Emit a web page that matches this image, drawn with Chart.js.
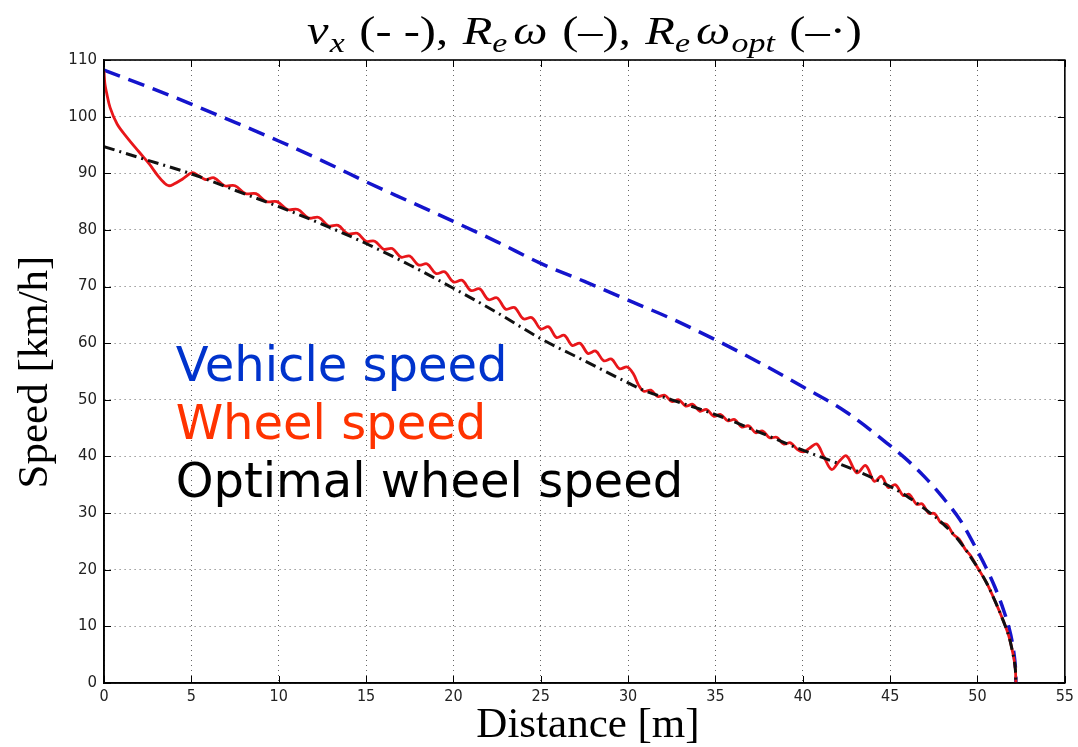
<!DOCTYPE html>
<html>
<head>
<meta charset="utf-8">
<script src="https://cdn.jsdelivr.net/npm/chart.js@4.4.1/dist/chart.umd.min.js"></script>
<style>
  html, body { margin: 0; padding: 0; background: #fff; }
  #wrap { width: 1078px; height: 747px; position: relative; }
</style>
</head>
<body>
<div id="wrap"><canvas id="speedChart"></canvas></div>
<script>
// axis ticks: distance [m] and speed [km/h]
const xTicks = [0, 5, 10, 15, 20, 25, 30, 35, 40, 45, 50, 55];
const yTicks = [0, 10, 20, 30, 40, 50, 60, 70, 80, 90, 100, 110];

// vehicle speed v_x
const vehicleDist = [0, 2.5, 5, 7.5, 10, 12.5, 15, 17.5, 20, 22.5, 25, 27.5, 30, 32.5, 35, 37.5, 40, 42.5, 45, 46, 47, 48, 49, 50, 50.5, 51, 51.5, 51.8, 52, 52.1, 52.15, 52.19, 52.2];
const vehicleSpeed = [108.2, 105.3, 102.2, 99.0, 95.7, 92.2, 88.5, 85.0, 81.5, 77.9, 74.1, 70.9, 67.6, 64.3, 60.6, 56.6, 52.3, 47.8, 41.9, 39.3, 36.3, 32.8, 28.8, 23.3, 20.3, 16.9, 12.8, 9.8, 7.0, 4.9, 3.5, 1.5, 0];

// wheel speed R_e*omega
const wheelDist = [0, 0.05, 0.15, 0.35, 0.75, 1.3, 2.0, 2.6, 3.1, 3.45, 3.7, 4.0, 4.5, 5.05, 5.4, 5.8,
  6.3, 6.9, 7.5, 8.1, 8.7, 9.3, 9.9, 10.5, 11.1, 11.7, 12.3, 12.85, 13.4, 13.95, 14.5, 15.0,
  15.5, 16.0, 16.5, 17.0, 17.5, 18.0, 18.5, 19.0, 19.5, 20.0, 20.5, 21.0, 21.5, 22.0, 22.5, 23.0,
  23.5, 24.0, 24.5, 25.0, 25.45, 25.9, 26.35, 26.8, 27.25, 27.7, 28.15, 28.6, 29.05, 29.5, 29.95,
  30.3, 30.6, 30.9, 31.3, 31.7, 32.1, 32.5, 32.9, 33.3, 33.7, 34.1, 34.5, 34.9, 35.3, 35.7, 36.1,
  36.5, 36.9, 37.3, 37.7, 38.1, 38.5, 38.9, 39.3, 39.7, 40.05, 40.4, 40.8, 41.2, 41.65, 42.1, 42.5,
  43.1, 43.6, 44.1, 44.5, 44.9, 45.3, 45.75, 46.1, 46.5, 46.85, 47.2, 47.55, 47.9, 48.25, 48.6,
  48.95, 49.3, 49.6, 50.0, 50.5, 51.0, 51.5, 51.8, 52.0, 52.1, 52.17, 52.2];
const wheelSpeed = [108.0, 105.8, 104.2, 101.6, 98.7, 96.4, 93.8, 91.6, 89.5, 88.3, 87.8, 88.1, 89.0, 90.1, 89.6, 88.9,
  89.2, 87.8, 87.8, 86.4, 86.4, 85.0, 85.0, 83.6, 83.6, 82.1, 82.2, 80.7, 80.8, 79.3, 79.4, 78.0,
  78.0, 76.6, 76.7, 75.2, 75.4, 73.8, 74.0, 72.3, 72.6, 70.8, 71.1, 69.3, 69.6, 67.7, 68.0, 66.0,
  66.3, 64.3, 64.5, 62.5, 62.9, 61.0, 61.4, 59.6, 60.0, 58.2, 58.6, 56.9, 57.2, 55.5, 55.8,
  54.6, 52.6, 51.5, 51.7, 50.6, 50.8, 49.7, 50.0, 48.9, 49.2, 48.0, 48.3, 47.1, 47.4, 46.3, 46.5,
  45.2, 45.4, 44.2, 44.5, 43.3, 43.4, 42.2, 42.4, 41.2, 40.8, 41.5, 42.2, 40.0, 37.7, 39.2, 40.1,
  37.1, 38.4, 35.6, 36.5, 34.5, 35.0, 33.1, 33.3, 31.6, 31.6, 30.0, 29.9, 28.3, 28.0, 26.3,
  25.4, 23.6, 22.5, 20.4, 17.8, 14.5, 10.8, 8.2, 5.6, 4.0, 2.3, 0];

// optimal wheel speed
const optimalDist = [0, 2.5, 5, 7.5, 10, 12.5, 15, 17.5, 20, 22.5, 25, 27.5, 30, 30.8, 32.5, 35, 37.5, 40, 42.5, 45, 46, 47, 48, 49, 50, 50.5, 51, 51.5, 51.8, 52, 52.1, 52.17, 52.2];
const optimalSpeed = [94.7, 92.3, 89.9, 87.0, 84.1, 81.0, 77.6, 73.8, 69.7, 65.4, 60.8, 56.9, 53.0, 51.8, 50.0, 47.4, 44.3, 41.1, 38.2, 34.7, 32.9, 30.7, 28.2, 24.9, 20.4, 17.8, 14.5, 10.8, 8.2, 5.6, 4.0, 2.3, 0];

const legendText = ['Vehicle speed', 'Wheel speed', 'Optimal wheel speed'];

function toPoints(xs, ys) {
    return xs.map((x, i) => ({ x: x, y: ys[i] }));
}

const serif = '"Liberation Serif", "DejaVu Serif", serif';

// title pieces: text, style, subscript?, gap before
const titleParts = [
    ['v', 'italic', 0, 0], ['x', 'italic', 1, 1], ['(- -),', 'normal', 0, 12],
    ['R', 'italic', 0, 12], ['e', 'italic', 1, 0], ['\u03C9', 'italic', 0, 5], ['(\u2013),', 'normal', 0, 12],
    ['R', 'italic', 0, 12], ['e', 'italic', 1, 0], ['\u03C9', 'italic', 0, 5], ['opt', 'italic', 1, 1],
    ['(\u2013\u00B7)', 'normal', 0, 12]
];

function drawTitle(ctx, left, right, baseline) {
    const fontOf = p => p[1] + ' ' + (p[2] ? 28 : 40) + 'px ' + serif;
    let total = 0;
    const widths = titleParts.map(p => {
        ctx.font = fontOf(p);
        const w = ctx.measureText(p[0]).width;
        total += p[3] + w;
        return w;
    });
    ctx.save();
    ctx.translate(left, 0);
    ctx.scale((right - left) / total, 1);
    let x = 0;
    titleParts.forEach((p, i) => {
        x += p[3];
        ctx.font = fontOf(p);
        ctx.fillText(p[0], x, p[2] ? baseline + 8 : baseline);
        x += widths[i];
    });
    ctx.restore();
}

// MATLAB-like frame with inward ticks, plus title, axis names and coloured labels
const decorations = {
    id: 'decorations',
    afterDatasetsDraw(chart) {
        const ctx = chart.ctx;
        const a = chart.chartArea;
        const sx = chart.scales.x, sy = chart.scales.y;
        ctx.save();
        ctx.strokeStyle = '#000';
        ctx.lineWidth = 1;
        ctx.beginPath();
        xTicks.forEach(v => {
            const px = Math.round(sx.getPixelForValue(v)) + 0.5;
            ctx.moveTo(px, a.bottom); ctx.lineTo(px, a.bottom - 7);
            ctx.moveTo(px, a.top); ctx.lineTo(px, a.top + 7);
        });
        yTicks.forEach(v => {
            const py = Math.round(sy.getPixelForValue(v)) + 0.5;
            ctx.moveTo(a.left, py); ctx.lineTo(a.left + 7, py);
            ctx.moveTo(a.right, py); ctx.lineTo(a.right - 7, py);
        });
        ctx.stroke();
        ctx.lineWidth = 1.6;
        ctx.strokeRect(a.left, a.top, a.right - a.left, a.bottom - a.top);
        ctx.restore();
    },
    afterDraw(chart) {
        const ctx = chart.ctx;
        const sx = chart.scales.x, sy = chart.scales.y;
        ctx.save();
        ctx.fillStyle = '#000';
        ctx.textBaseline = 'alphabetic';
        ctx.textAlign = 'left';
        drawTitle(ctx, 307, 862, 44);

        // axis names
        ctx.font = '43px ' + serif;
        ctx.textAlign = 'center';
        ctx.fillText('Distance [m]', 588, 737);
        ctx.save();
        ctx.translate(47, 372);
        ctx.rotate(-Math.PI / 2);
        ctx.fillText('Speed [km/h]', 0, 0);
        ctx.restore();

        // coloured series names inside the plot
        const colors = ['#0033cc', '#ff3300', '#000000'];
        const baseY = [53.4, 43.0, 32.8];
        ctx.font = '48px "DejaVu Sans", Verdana, sans-serif';
        ctx.textAlign = 'left';
        legendText.forEach((t, i) => {
            ctx.fillStyle = colors[i];
            ctx.fillText(t, sx.getPixelForValue(4.1), sy.getPixelForValue(baseY[i]));
        });
        ctx.restore();
    }
};

new Chart(document.getElementById('speedChart'), {
    type: 'line',
    data: {
        datasets: [{
            label: 'Optimal wheel speed',
            data: toPoints(optimalDist, optimalSpeed),
            borderColor: '#111111',
            borderWidth: 3,
            borderDash: [11, 5, 2, 5],
            pointRadius: 0,
            cubicInterpolationMode: 'monotone',
            order: 0
        }, {
            label: 'Wheel speed',
            data: toPoints(wheelDist, wheelSpeed),
            borderColor: '#e8161a',
            borderWidth: 2.8,
            pointRadius: 0,
            tension: 0.35,
            order: 1
        }, {
            label: 'Vehicle speed',
            data: toPoints(vehicleDist, vehicleSpeed),
            borderColor: '#1414cc',
            borderWidth: 3.5,
            borderDash: [17, 9],
            pointRadius: 0,
            cubicInterpolationMode: 'monotone',
            order: 2
        }]
    },
    options: {
        responsive: true,
        maintainAspectRatio: false,
        animation: false,
        layout: { padding: { top: 60, right: 9, left: 0, bottom: 0 } },
        plugins: {
            legend: { display: false },
            tooltip: { enabled: false },
            title: { display: false }
        },
        scales: {
            x: {
                type: 'linear',
                min: 0,
                max: 55,
                afterBuildTicks: s => { s.ticks = xTicks.map(v => ({ value: v })); },
                afterFit: s => { s.height = 64; },
                ticks: {
                    autoSkip: false,
                    maxRotation: 0,
                    padding: 4,
                    color: '#222',
                    font: { family: '"DejaVu Sans Condensed", "Liberation Sans Narrow", "Liberation Sans", sans-serif', size: 16 }
                },
                grid: { color: 'rgba(0,0,0,0.6)', lineWidth: 1, drawTicks: false },
                border: { display: true, color: '#000', width: 1.6, dash: [1, 4] }
            },
            y: {
                min: 0,
                max: 110,
                afterBuildTicks: s => { s.ticks = yTicks.map(v => ({ value: v })); },
                afterFit: s => { s.width = 104; },
                ticks: {
                    autoSkip: false,
                    padding: 7,
                    color: '#222',
                    font: { family: '"DejaVu Sans", sans-serif', size: 15 }
                },
                grid: { color: 'rgba(0,0,0,0.6)', lineWidth: 1, drawTicks: false },
                border: { display: true, color: '#000', width: 1.6, dash: [1, 4] }
            }
        }
    },
    plugins: [decorations]
});
</script>
</body>
</html>
